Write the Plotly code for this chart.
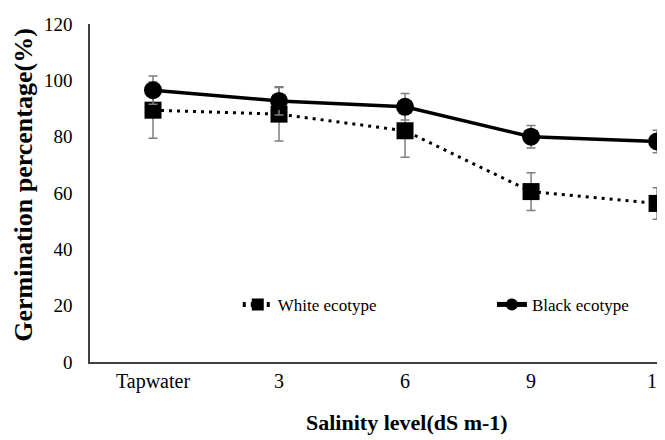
import plotly.graph_objects as go

categories = ["Tapwater", "3", "6", "9", "12"]
white_vals = [89.4, 88.0, 82.1, 60.5, 56.3]
white_err = [10.0, 9.5, 9.4, 6.7, 5.6]
black_vals = [96.5, 92.7, 90.6, 80.0, 78.3]
black_err = [5.0, 5.0, 4.7, 4.0, 4.0]
y_ticks = [0, 20, 40, 60, 80, 100, 120]

FONT = "Liberation Serif, Times New Roman, DejaVu Serif, serif"

fig = go.Figure()
fig.add_trace(go.Scatter(
    x=categories, y=white_vals, name="White ecotype", mode="lines+markers",
    line=dict(color="black", width=3, dash="3px,5px"),
    marker=dict(symbol="square", size=17, color="black"),
    error_y=dict(type="data", array=white_err, color="#7f7f7f", thickness=1.5, width=4.5),
    legend="legend", cliponaxis=False,
))
fig.add_trace(go.Scatter(
    x=categories, y=black_vals, name="Black ecotype", mode="lines+markers",
    line=dict(color="black", width=3.5),
    marker=dict(symbol="circle", size=18, color="black"),
    error_y=dict(type="data", array=black_err, color="#7f7f7f", thickness=1.5, width=4.5),
    legend="legend2", cliponaxis=False,
))

leg_common = dict(
    orientation="h", yanchor="middle", xanchor="left",
    font=dict(family=FONT, size=17, color="black"),
    itemsizing="constant", bgcolor="rgba(0,0,0,0)",
)

fig.update_layout(
    width=657, height=432,
    margin=dict(l=82, r=0, t=16, b=78),
    paper_bgcolor="white", plot_bgcolor="white",
    font=dict(family=FONT, color="black", size=18),
    showlegend=True,
    legend=dict(x=0.257, y=0.169, **leg_common),
    legend2=dict(x=0.699, y=0.169, **leg_common),
    xaxis=dict(
        type="category", range=[-0.5, 4.063], automargin=False,
        showline=True, linecolor="#404040", linewidth=1.5,
        showgrid=False, ticks="", zeroline=False,
        tickfont=dict(family=FONT, size=20),
    ),
    yaxis=dict(
        range=[0, 120], tickvals=y_ticks, automargin=False,
        showline=True, linecolor="#404040", linewidth=1.5,
        showgrid=False, ticks="", zeroline=False,
        tickfont=dict(family=FONT, size=19),
        ticklabelstandoff=12,
    ),
    annotations=[
        dict(text="<b>Salinity level(dS m-1)</b>", xref="paper", yref="paper",
             x=0.551, y=-0.178, xanchor="center", yanchor="middle", showarrow=False,
             font=dict(family=FONT, size=22, color="black")),
        dict(text="<b>Germination percentage(%)</b>", xref="paper", yref="paper",
             x=-0.115, y=0.524, xanchor="center", yanchor="middle", showarrow=False,
             textangle=-90, font=dict(family=FONT, size=26, color="black")),
    ],
)

fig.write_html("out.html")
